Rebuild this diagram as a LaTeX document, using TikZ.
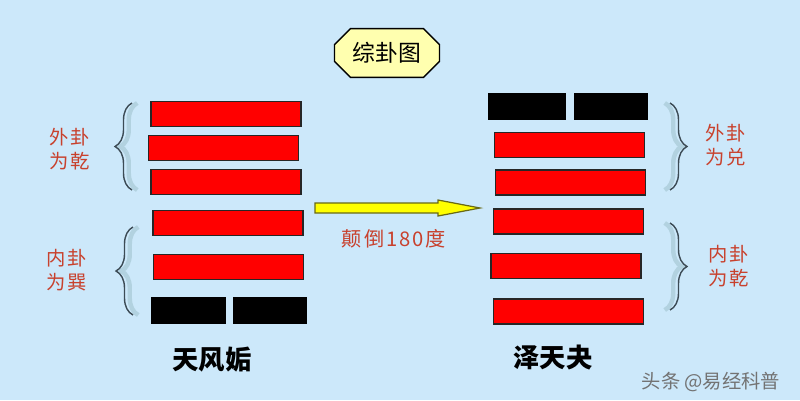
\documentclass[tikz,border=0pt]{standalone}
\usepackage{fontspec}
\newfontfamily\cjk{Noto Sans CJK SC}
\newfontfamily\cjkwide[LetterSpace=10]{Noto Sans CJK SC}
\usetikzlibrary{decorations.pathreplacing,shapes.misc,calc}

\definecolor{bgblue}{RGB}{204,232,250}
\definecolor{labelred}{RGB}{200,65,45}
\definecolor{bracegray}{RGB}{60,75,85}
\definecolor{braceshade}{RGB}{178,210,224}
\definecolor{boxyellow}{RGB}{255,255,175}
\definecolor{arrowyellow}{RGB}{255,255,0}
\definecolor{arrowedge}{RGB}{105,105,20}

\begin{document}
\begin{tikzpicture}[x=0.02cm,y=-0.02cm,
  yang/.style={draw=black!85,fill=red,line width=0.6pt,minimum width=3cm,minimum height=0.5cm,inner sep=0pt},
  yin/.style={draw=black,fill=black,line width=0.6pt,minimum width=1.46cm,minimum height=0.5cm,inner sep=0pt},
  tag/.style={text=labelred,font=\cjkwide\fontsize{11}{13.6}\selectfont,align=center},
  hexname/.style={font=\cjk\bfseries\fontsize{15}{18}\selectfont},
  bracket/.style={decorate,decoration={brace,amplitude=0.34cm},draw=bracegray,line width=0.8pt},
  bracketshade/.style={decorate,decoration={brace,amplitude=0.34cm},draw=braceshade,line width=2.5pt}]
% Background
\fill[bgblue] (0,0) rectangle (800,400);
\useasboundingbox (0,0) rectangle (800,400);
% Title box
\node[chamfered rectangle, chamfered rectangle xsep=0.16cm, chamfered rectangle ysep=0.16cm,
  draw, fill=boxyellow, line width=0.8pt, minimum width=2.1cm, minimum height=0.72cm,
  font=\cjk\fontsize{13}{15}\selectfont] (title) at (387,53) {综卦图};
% Left hexagram, yao 2 to 6
\foreach \n/\x/\y in {6/226/114,5/223.5/148,4/226/182,3/228/223,2/228.5/267}
  \node[yang] (l\n) at (\x,\y) {};
\node[yin] (l1a) at (188.5,310.5) {};
\node[yin,minimum width=1.44cm] (l1b) at (270,310.5) {};
% Right hexagram
\node[yin,minimum width=1.52cm] (r6a) at (527,106.5) {};
\node[yin,minimum width=1.44cm] (r6b) at (611,106.5) {};
\foreach \n/\x/\y in {5/569.5/145,4/570.5/182.5,3/568.5/221.5,2/566/266,1/568.5/311.5}
  \node[yang] (r\n) at (\x,\y) {};
% Braces
\coordinate (lut) at (132,103); \coordinate (lub) at (132,190);
\coordinate (llt) at (133,227); \coordinate (llb) at (133,315);
\coordinate (rut) at (670,103); \coordinate (rub) at (670,190);
\coordinate (rlt) at (670,223); \coordinate (rlb) at (670,310);
\draw[bracketshade] ([xshift=3]lub) -- ([xshift=3]lut);
\draw[bracketshade] ([xshift=3]llb) -- ([xshift=3]llt);
\draw[bracketshade] ([xshift=-3]rut) -- ([xshift=-3]rub);
\draw[bracketshade] ([xshift=-3]rlt) -- ([xshift=-3]rlb);
\draw[bracket] (lub) -- (lut);
\draw[bracket] (llb) -- (llt);
\draw[bracket] (rut) -- (rub);
\draw[bracket] (rlt) -- (rlb);
% Trigram labels
\node[tag] (louter) at (70,149) {外卦\\为乾};
\node[tag] (linner) at (67,270) {内卦\\为巽};
\node[tag] (router) at (726,145) {外卦\\为兑};
\node[tag] (rinner) at (729,266) {内卦\\为乾};
% Arrow
\coordinate (tail) at (315,208);
\coordinate (tip) at (480,208);
\draw[fill=arrowyellow,draw=arrowedge,line width=0.7pt,line join=miter]
  ($(tail)+(0,-5)$) -- ($(tip)+(-42,-5)$) -- ($(tip)+(-42,-8)$) -- (tip)
  -- ($(tip)+(-42,8)$) -- ($(tip)+(-42,5)$) -- ($(tail)+(0,5)$) -- cycle;
\node[text=labelred,font=\cjkwide\fontsize{11.5}{13}\selectfont] (turn) at (394,239) {颠倒180度};
% Hexagram names
\node[hexname] (lname) at (212,360) {天风姤};
\node[hexname] (rname) at (553,358) {泽天夬};
% Watermark
\node[text=black!55,font=\cjk\fontsize{11}{12}\selectfont] (mark) at (711,382) {头条 @易经科普};
\end{tikzpicture}
\end{document}
